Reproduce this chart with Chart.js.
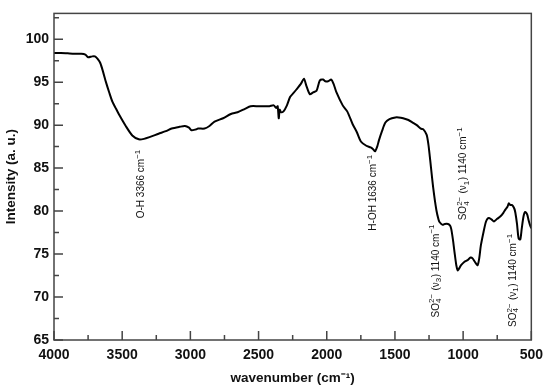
<!DOCTYPE html>
<html lang="en">
<head>
    <meta charset="utf-8">
    <title>FTIR spectrum</title>
    <script src="https://cdn.jsdelivr.net/npm/chart.js@4.4.1/dist/chart.umd.min.js"></script>
    <style>
        html, body {
            margin: 0;
            padding: 0;
            background: #fff;
        }

        #wrap {
            width: 550px;
            height: 390px;
        }
    </style>
</head>
<body>
<div id="wrap">
    <canvas id="myChart" width="550" height="390"></canvas>
</div>

<script>
    // spectrum (wavenumber in cm-1, intensity in a. u.)
    var wavenumber = [
        4000, 3950, 3900, 3850, 3800, 3770, 3750, 3720, 3700, 3680,
        3660, 3640, 3619, 3595, 3571, 3545, 3522, 3474, 3426, 3378,
        3340, 3300, 3233, 3180, 3137, 3080, 3040, 3010, 2992, 2960,
        2944, 2896, 2860, 2823, 2760, 2703, 2654, 2600, 2558, 2500,
        2461, 2420, 2389, 2370, 2360, 2352, 2345, 2335, 2317, 2292,
        2268, 2240, 2220, 2190, 2167, 2150, 2124, 2100, 2075, 2051,
        2027, 2010, 1991, 1967, 1950, 1931, 1883, 1850, 1810, 1780,
        1750, 1710, 1678, 1660, 1646, 1630, 1618, 1595, 1570, 1540,
        1497, 1473, 1440, 1401, 1370, 1340, 1310, 1292, 1268, 1255,
        1244, 1220, 1196, 1180, 1172, 1150, 1135, 1111, 1095, 1087,
        1075, 1063, 1050, 1040, 1030, 1015, 990, 967, 945, 931,
        910, 894, 882, 870, 850, 834, 822, 810, 790, 774,
        750, 726, 705, 689, 675, 665, 655, 641, 625, 617,
        605, 593, 581, 570, 557, 545, 530, 521, 510, 500
    ];
    var intensity = [
        98.4, 98.4, 98.35, 98.3, 98.3, 98.2, 97.9, 98.0, 98.0, 97.7,
        97.2, 96.2, 95.0, 93.8, 92.7, 91.9, 91.2, 89.9, 88.8, 88.35,
        88.4, 88.6, 89.0, 89.3, 89.6, 89.8, 89.9, 89.7, 89.4, 89.5,
        89.6, 89.6, 89.9, 90.4, 90.8, 91.3, 91.5, 91.9, 92.2, 92.2,
        92.2, 92.2, 92.3, 92.0, 92.2, 90.8, 91.8, 91.5, 91.6, 92.3,
        93.3, 93.8, 94.2, 94.8, 95.4, 94.6, 93.6, 93.8, 94.0, 95.2,
        95.3, 95.1, 95.1, 95.3, 94.8, 93.9, 92.3, 91.6, 90.1, 89.2,
        88.1, 87.6, 87.4, 87.2, 86.95, 87.5, 88.2, 89.3, 90.3, 90.7,
        90.9, 90.9, 90.8, 90.6, 90.3, 90.0, 89.6, 89.5, 88.9, 87.8,
        86.3, 82.8, 80.1, 79.0, 78.7, 78.4, 78.5, 78.5, 78.3, 77.9,
        76.7, 75.2, 73.7, 73.1, 73.3, 73.7, 74.1, 74.3, 74.6, 74.5,
        74.0, 73.7, 74.5, 76.0, 77.6, 78.7, 79.1, 79.2, 79.0, 78.8,
        79.1, 79.4, 79.8, 80.2, 80.5, 80.9, 80.7, 80.7, 80.3, 79.8,
        78.5, 76.8, 76.7, 78.0, 79.4, 79.9, 79.6, 79.0, 78.4, 78.0
    ];

    // axis ticks
    var xMajor = [4000, 3500, 3000, 2500, 2000, 1500, 1000, 500];
    var xMinor = [3750, 3250, 2750, 2250, 1750, 1250, 750];
    var yMajor = [65, 70, 75, 80, 85, 90, 95, 100];
    var yMinor = [67.5, 72.5, 77.5, 82.5, 87.5, 92.5, 97.5, 102.5];

    // band labels: parts are [text, 'n' | 'sub' | 'sup' | 'subsup']
    var bandWavenumber = [3366, 1663, 1207, 1002, 640];
    var bandTop = [87.2, 86.6, 78.5, 89.8, 77.4];
    var bandText = [
        [['O-H 3366 cm', 'n'], ['\u22121', 'sup']],
        [['H-OH 1636 cm', 'n'], ['\u22121', 'sup']],
        [['SO', 'n'], ['4|2\u2212', 'subsup'], [' (\u03bd', 'n'], ['3', 'sub'], [') 1140 cm', 'n'], ['\u22121', 'sup']],
        [['SO', 'n'], ['4|2\u2212', 'subsup'], [' (\u03bd', 'n'], ['1', 'sub'], [') 1140 cm', 'n'], ['\u22121', 'sup']],
        [['SO', 'n'], ['4|2\u2212', 'subsup'], [' (\u03bd', 'n'], ['1', 'sub'], [') 1140 cm', 'n'], ['\u22121', 'sup']]
    ];

    var FONT = '"Liberation Sans", Arial, sans-serif';

    var points = wavenumber.map(function (w, i) {
        return {x: w, y: intensity[i]};
    });

    // inside ticks, frame and rotated band labels
    var extras = {
        id: 'extras',
        afterDatasetsDraw: function (chart) {
            var ctx = chart.ctx;
            var a = chart.chartArea;
            var xs = chart.scales.x;
            var ys = chart.scales.y;

            ctx.save();
            ctx.strokeStyle = '#444';
            ctx.lineWidth = 1.5;
            ctx.beginPath();
            xMajor.forEach(function (v) {
                var px = xs.getPixelForValue(v);
                ctx.moveTo(px, a.bottom);
                ctx.lineTo(px, a.bottom - 9);
            });
            xMinor.forEach(function (v) {
                var px = xs.getPixelForValue(v);
                ctx.moveTo(px, a.bottom);
                ctx.lineTo(px, a.bottom - 5);
            });
            yMajor.forEach(function (v) {
                var py = ys.getPixelForValue(v);
                ctx.moveTo(a.left, py);
                ctx.lineTo(a.left + 9, py);
            });
            yMinor.forEach(function (v) {
                var py = ys.getPixelForValue(v);
                ctx.moveTo(a.left, py);
                ctx.lineTo(a.left + 5, py);
            });
            ctx.stroke();
            ctx.strokeRect(a.left, a.top, a.right - a.left, a.bottom - a.top);
            ctx.restore();

            var fs = 10, small = 8;
            bandText.forEach(function (parts, i) {
                var x = xs.getPixelForValue(bandWavenumber[i]);
                var yTop = ys.getPixelForValue(bandTop[i]);
                ctx.save();
                ctx.fillStyle = '#111';
                ctx.textBaseline = 'alphabetic';
                ctx.textAlign = 'left';
                // measure
                var total = 0;
                var widths = parts.map(function (p) {
                    var w;
                    if (p[1] === 'n') {
                        ctx.font = fs + 'px ' + FONT;
                        w = ctx.measureText(p[0]).width;
                    } else {
                        ctx.font = small + 'px ' + FONT;
                        w = Math.max.apply(null, p[0].split('|').map(function (s) {
                            return ctx.measureText(s).width;
                        })) + 0.5;
                    }
                    total += w;
                    return w;
                });
                ctx.translate(x, yTop);
                ctx.rotate(-Math.PI / 2);
                var cx = -total;
                var base = fs * 0.36;
                parts.forEach(function (p, k) {
                    if (p[1] === 'n') {
                        ctx.font = fs + 'px ' + FONT;
                        ctx.fillText(p[0], cx, base);
                    } else {
                        ctx.font = small + 'px ' + FONT;
                        var bits = p[0].split('|');
                        if (p[1] === 'sub') {
                            ctx.fillText(bits[0], cx, base + fs * 0.25);
                        } else if (p[1] === 'sup') {
                            ctx.fillText(bits[0], cx, base - fs * 0.42);
                        } else {
                            ctx.fillText(bits[0], cx, base + fs * 0.25);
                            ctx.fillText(bits[1], cx, base - fs * 0.42);
                        }
                    }
                    cx += widths[k];
                });
                ctx.restore();
            });
        }
    };

    var ctx = document.getElementById('myChart').getContext('2d');
    var chart = new Chart(ctx, {
        type: 'line',
        data: {
            datasets: [{
                data: points,
                borderColor: '#000',
                borderWidth: 2,
                pointRadius: 0,
                tension: 0.25,
                fill: false
            }]
        },
        options: {
            responsive: false,
            animation: false,
            events: [],
            layout: {padding: {top: 6, right: 12, left: 0, bottom: 0}},
            plugins: {
                legend: {display: false},
                tooltip: {enabled: false}
            },
            scales: {
                x: {
                    type: 'linear',
                    reverse: true,
                    min: 500,
                    max: 4000,
                    afterFit: function (s) { s.height = 50; },
                    afterBuildTicks: function (s) {
                        s.ticks = xMajor.map(function (v) { return {value: v}; });
                    },
                    grid: {display: false, drawTicks: false},
                    border: {display: false},
                    ticks: {
                        padding: 7,
                        color: '#111',
                        maxRotation: 0,
                        callback: function (v) { return String(v); },
                        font: {family: FONT, size: 14, weight: 'bold'}
                    },
                    title: {
                        display: true,
                        text: 'wavenumber (cm\u207b\u00b9)',
                        color: '#111',
                        padding: {bottom: 4},
                        font: {family: FONT, size: 13.5, weight: 'bold'}
                    }
                },
                y: {
                    min: 65,
                    max: 103,
                    afterFit: function (s) { s.width = 54; },
                    afterBuildTicks: function (s) {
                        s.ticks = yMajor.map(function (v) { return {value: v}; });
                    },
                    grid: {display: false, drawTicks: false},
                    border: {display: false},
                    ticks: {
                        padding: 5,
                        color: '#111',
                        callback: function (v) { return String(v); },
                        font: {family: FONT, size: 14, weight: 'bold'}
                    },
                    title: {
                        display: true,
                        text: 'Intensity (a. u.)',
                        color: '#111',
                        padding: {top: 3},
                        font: {family: FONT, size: 13.5, weight: 'bold'}
                    }
                }
            }
        },
        plugins: [extras]
    });
</script>
</body>
</html>
